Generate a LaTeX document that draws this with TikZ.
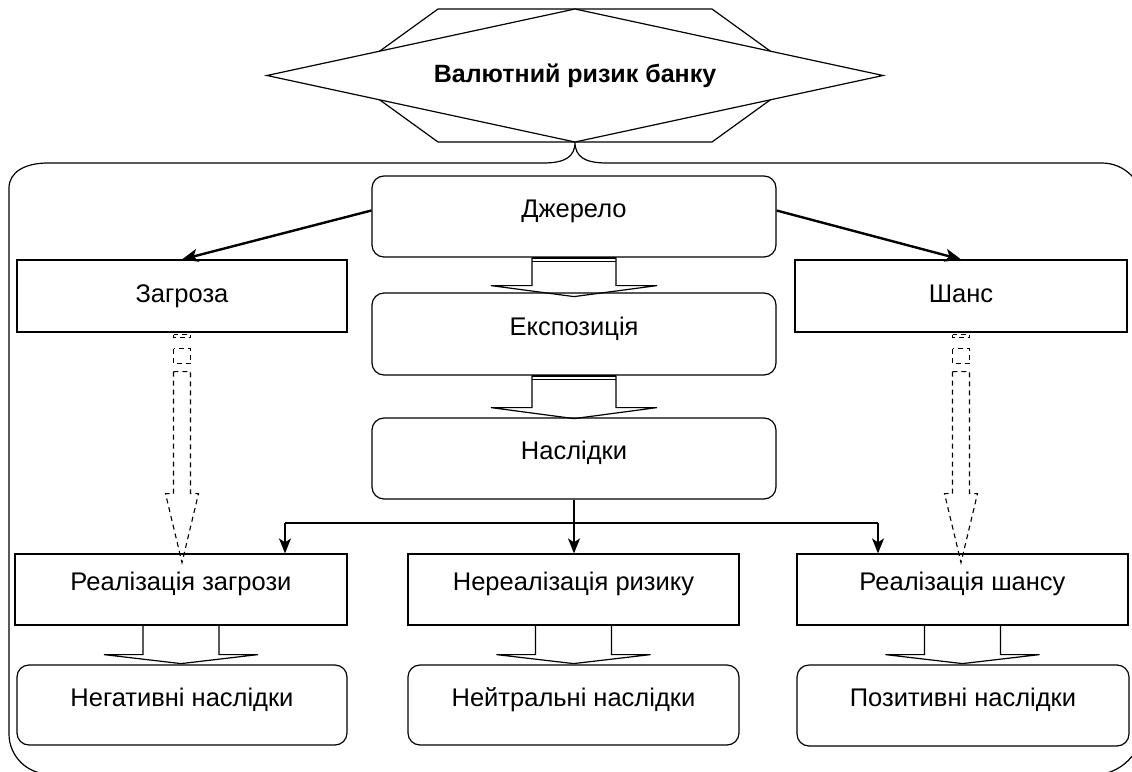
\documentclass[tikz,border=0pt]{standalone}
\usepackage{fontspec}
\setmainfont{Liberation Sans}
\usetikzlibrary{arrows.meta}
\begin{document}
\begin{tikzpicture}[x=1pt,y=-1pt,
  line width=1.2pt,
  sqbox/.style={draw, fill=white, inner sep=0pt, font=\fontsize{25.5}{30}\selectfont,
    text height=18pt, text depth=16pt},
  midtext/.style={text height=18pt, text depth=5pt},
  rbox/.style={sqbox, rounded corners=12pt},
  link/.style={line width=2.4pt, -{Stealth[length=16pt,width=13pt,inset=4pt]}},
  drop/.style={line width=1.8pt, -{Stealth[length=15pt,width=12pt,inset=4pt]}},
  blk/.style={line width=1.2pt, line join=miter},
  dblk/.style={line width=1.1pt, dash pattern=on 5pt off 4pt},
  pics/hollow/.style n args={4}{code={
    \draw[blk] (-#1,0) -- (-#1,#3) -- (-#2,#3) -- (0,#3+#4) -- (#2,#3) -- (#1,#3) -- (#1,0);
    \draw[line width=1.6pt] (-#1,0.5) -- (#1,0.5);
    \draw[line width=1.2pt] (-#1,4) -- (#1,4);
  }},
  pics/hollowplain/.style n args={4}{code={
    \draw[blk] (-#1,0) -- (-#1,#3) -- (-#2,#3) -- (0,#3+#4) -- (#2,#3) -- (#1,#3) -- (#1,0);
  }},
  pics/stripeddown/.style={code={
    \draw[dblk] (-8.5,2) rectangle (8.5,5);
    \draw[dblk] (-8.5,16) rectangle (8.5,31);
    \draw[dblk] (-8.5,39) -- (-8.5,161) -- (-16.5,161) -- (0,230) -- (16.5,161) -- (8.5,161) -- (8.5,39) -- cycle;
  }}]

\useasboundingbox (0,0) rectangle (1132,771);

% outer bracket frame with the central tip
\draw (575,142) .. controls (575,157) and (565,163) .. (543,163)
  -- (48,163) .. controls (25,163) and (9,172) .. (9,188)
  -- (9,734) .. controls (9,756) and (27,774) .. (49,774)
  -- (1093,775) .. controls (1120.6,775) and (1143,752.6) .. (1143,725)
  -- (1143,204) .. controls (1143,181.4) and (1124.6,163) .. (1102,163)
  -- (607,163) .. controls (585,163) and (575,157) .. (575,142);

% title emblem
\draw[fill=white] (438,9) -- (712,9) -- (804,75.5) -- (712,142) -- (438,142) -- (346,75.5) -- cycle;
\draw[fill=white] (575,9) -- (883,75.5) -- (575,142) -- (267,75.5) -- cycle;
\node[inner sep=0pt, font=\fontsize{25}{30}\selectfont\bfseries] (title) at (575,75.5) {Валютний ризик банку};

% boxes
\node[rbox, minimum width=404pt, minimum height=81pt] (dzh) at (574,216.5) {Джерело};
\node[sqbox, midtext, minimum width=330pt, minimum height=72pt] (zag) at (182,296) {Загроза};
\node[sqbox, midtext, minimum width=332pt, minimum height=72pt] (shans) at (961,296) {Шанс};
\node[rbox, minimum width=404pt, minimum height=82pt] (expo) at (574,334) {Експозиція};
\node[rbox, minimum width=404pt, minimum height=81pt] (nasl) at (574,458.5) {Наслідки};
\node[sqbox, minimum width=332pt, minimum height=71pt] (real1) at (181,589.5) {Реалізація загрози};
\node[sqbox, minimum width=331pt, minimum height=71pt] (nereal) at (573.5,589.5) {Нереалізація ризику};
\node[sqbox, minimum width=331pt, minimum height=71pt] (real2) at (962.5,589.5) {Реалізація шансу};
\node[rbox, minimum width=330pt, minimum height=80pt] (neg) at (182,705) {Негативні наслідки};
\node[rbox, minimum width=331pt, minimum height=80pt] (neut) at (573.5,705) {Нейтральні наслідки};
\node[rbox, minimum width=332pt, minimum height=81pt] (poz) at (963,705.5) {Позитивні наслідки};

% arrows from the source
\draw[link] ([yshift=6pt]dzh.west) -- (zag.north);
\draw[link] ([yshift=6pt]dzh.east) -- (shans.north);

% hollow arrows down the central column
\pic at (dzh.south) {hollow={42}{83}{28}{11}};
\pic at (expo.south) {hollow={42}{83}{32}{11}};

% dashed striped arrows
\pic at (zag.south) {stripeddown};
\pic at (shans.south) {stripeddown};

% branching from the consequences
\coordinate (bl) at (285,523);
\coordinate (br) at (878,523);
\draw[line width=1.8pt] (bl) -- (br);
\draw[drop] (nasl.south) -- (nasl.south |- nereal.north);
\draw[drop] (bl) -- (bl |- real1.north);
\draw[drop] (br) -- (br |- real2.north);

% hollow arrows to the outcomes
\pic at (real1.south) {hollowplain={38}{77}{29}{9}};
\pic at (nereal.south) {hollowplain={38}{77}{29}{9}};
\pic at (real2.south) {hollowplain={38}{77}{29}{9}};
\end{tikzpicture}
\end{document}
